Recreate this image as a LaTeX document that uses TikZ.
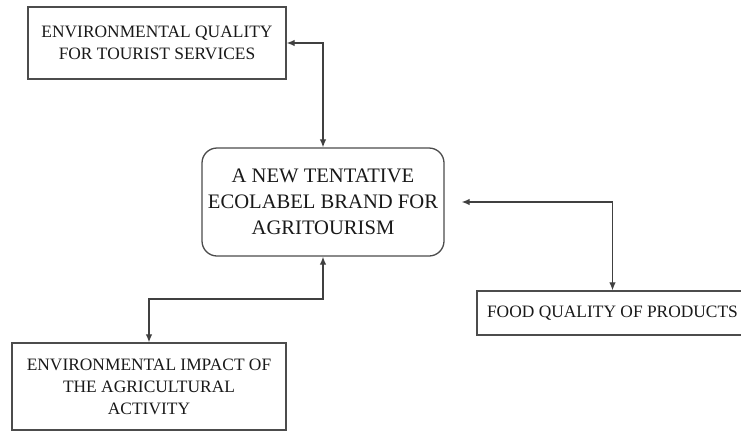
\documentclass[tikz,border=0pt]{standalone}
\usepackage{fontspec}
\setmainfont{Liberation Serif}
\usetikzlibrary{arrows.meta}
\begin{document}
\begin{tikzpicture}[x=1pt,y=-1pt,
  box/.style={draw=black!70, line width=1.3pt, inner sep=0pt, align=center,
    font=\fontsize{17.4}{22}\selectfont, text=black!90},
  bigbox/.style={box, rounded corners=15pt, font=\fontsize{20.6}{26}\selectfont},
  link/.style={draw=black!75, line width=1.2pt, {Latex[length=8pt,width=6.5pt]}-{Latex[length=8pt,width=6.5pt]}}]
\clip (0,0) rectangle (741,432);
\fill[white] (0,0) rectangle (741,432);
\node[box, minimum width=258pt, minimum height=72pt] (tour) at (157,43)
  {ENVIRONMENTAL QUALITY\\FOR TOURIST SERVICES};
\node[bigbox, minimum width=242pt, minimum height=108pt] (eco) at (323,202)
  {A NEW TENTATIVE\\ECOLABEL BRAND FOR\\AGRITOURISM};
\node[box, minimum width=271pt, minimum height=44pt] (food) at (612.5,313)
  {FOOD QUALITY OF PRODUCTS};
\node[box, minimum width=274pt, minimum height=87pt] (agri) at (149,386.5)
  {ENVIRONMENTAL IMPACT OF\\THE AGRICULTURAL\\ACTIVITY};
\coordinate (ecoR) at ([xshift=17pt]eco.east);
\coordinate (mid) at (323,299);
\draw[link] (tour.east) -| (eco.north);
\draw[link] (ecoR) -| (food.north);
\draw[link] (eco.south) -- (mid) -| (agri.north);
\end{tikzpicture}
\end{document}
